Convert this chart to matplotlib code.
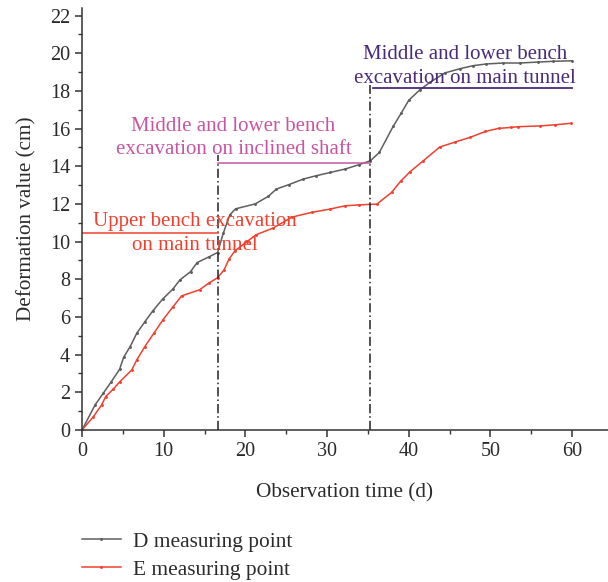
import matplotlib
matplotlib.use("Agg")
import matplotlib.pyplot as plt
from matplotlib.lines import Line2D
from matplotlib.ticker import MultipleLocator

plt.rcParams['font.family'] = ['Liberation Serif', 'DejaVu Serif']

# Observation days and deformation (cm) at measuring point D
d_time = [0, 1.6, 2.6, 3.6, 4.6, 5.1, 5.9, 6.7, 7.7, 8.7, 9.9, 11.1, 12.0, 13.3,
          14.1, 15.5, 16.6, 17.3, 18.1, 18.8, 21.2, 22.8, 23.8, 25.3, 27.1, 28.7,
          30.4, 32.2, 33.9, 35.3, 36.4, 38.1, 39.1, 40.0, 41.4, 42.6, 44.4, 46.3,
          47.9, 49.5, 51.6, 53.6, 55.8, 57.7, 60.0]
d_value = [0, 1.33, 1.95, 2.57, 3.22, 3.86, 4.43, 5.13, 5.75, 6.34, 6.96, 7.47,
           7.97, 8.41, 8.89, 9.18, 9.42, 10.45, 11.42, 11.74, 12.0, 12.4, 12.79,
           13.02, 13.32, 13.5, 13.67, 13.85, 14.08, 14.29, 14.73, 16.12, 16.83,
           17.5, 18.07, 18.45, 18.95, 19.18, 19.34, 19.43, 19.48, 19.48, 19.53,
           19.57, 19.6]

# Observation days and deformation (cm) at measuring point E
e_time = [0, 1.4, 2.4, 2.9, 3.8, 4.65, 6.1, 6.7, 7.7, 8.8, 9.9, 11.1, 12.2, 14.4,
          15.5, 16.6, 17.4, 18.0, 18.7, 20.2, 21.3, 23.4, 25.7, 28.1, 30.4, 32.2,
          33.9, 36.1, 37.9, 39.0, 40.2, 41.7, 43.8, 45.7, 47.5, 49.4, 51.0, 52.5,
          53.4, 56.1, 57.9, 59.9]
e_value = [0, 0.71, 1.33, 1.77, 2.16, 2.57, 3.19, 3.72, 4.43, 5.14, 5.84, 6.52,
           7.12, 7.44, 7.79, 8.08, 8.5, 9.07, 9.5, 10.0, 10.36, 10.72, 11.3, 11.55,
           11.73, 11.9, 11.95, 11.99, 12.61, 13.2, 13.72, 14.26, 15.02, 15.29,
           15.53, 15.85, 16.01, 16.06, 16.1, 16.14, 16.2, 16.28]

# Construction stage boundaries (days) and annotation levels (cm)
stage_days = [16.6, 35.3]
stage_tops = [14.6, 18.3]
stage_levels = [10.45, 14.17, 18.15]
stage_labels = ["Upper bench excavation\non main tunnel",
                "Middle and lower bench\nexcavation on inclined shaft",
                "Middle and lower bench\nexcavation on main tunnel"]

gray = '#5e5e5e'
red = '#f0402e'
pink = '#c8559f'
purple = '#4a2a7a'
txt = '#2b2b2b'

fig = plt.figure(figsize=(6.08, 5.82), dpi=100)
ax = fig.add_axes([82 / 608, 1 - 430 / 582, 1 - 82 / 608, (430 - 8) / 582])

ax.plot(d_time, d_value, color=gray, lw=1.1, marker='.', ms=2.2)
ax.plot(e_time, e_value, color=red, lw=1.1, marker='.', ms=2.2)

for xd, top in zip(stage_days, stage_tops):
    ax.plot([xd, xd], [0, top], color='#222222', lw=1.1, ls=(0, (6, 2, 1, 2)))

ax.plot([0, stage_days[0]], [stage_levels[0]] * 2, color=red, lw=1.1)
ax.plot([stage_days[0], stage_days[1]], [stage_levels[1]] * 2, color=pink, lw=1.1)
ax.plot([stage_days[1] + 0.3, 60], [stage_levels[2]] * 2, color=purple, lw=1.3)

fs = 15
ax.text(13.8, 10.41, stage_labels[0], color=red, fontsize=fs, ha='center',
        va='center', linespacing=1.35)
ax.text(18.55, 15.5, stage_labels[1], color=pink, fontsize=fs, ha='center',
        va='center', linespacing=1.35)
ax.text(46.9, 19.29, stage_labels[2], color=purple, fontsize=fs, ha='center',
        va='center', linespacing=1.35)

ax.set_xlim(0, 64.4)
ax.set_ylim(0, 22.4)
ax.xaxis.set_major_locator(MultipleLocator(10))
ax.xaxis.set_minor_locator(MultipleLocator(5))
ax.yaxis.set_major_locator(MultipleLocator(2))
ax.yaxis.set_minor_locator(MultipleLocator(1))
ax.set_xticks(range(0, 61, 10))
ax.set_yticks(range(0, 23, 2))

for side in ('top', 'right'):
    ax.spines[side].set_visible(False)
for side in ('left', 'bottom'):
    ax.spines[side].set_color('#333333')
    ax.spines[side].set_linewidth(1.1)

ax.tick_params(which='major', direction='out', length=5, width=1.1,
               colors='#333333', labelsize=14.5, labelcolor=txt)
ax.tick_params(which='minor', direction='out', length=3, width=1.0,
               colors='#333333')

ax.set_xlabel('Observation time (d)', fontsize=15.3, color=txt, labelpad=16)
ax.set_ylabel('Deformation value (cm)', fontsize=15.2, color=txt, labelpad=10)

handles = [Line2D([], [], color=gray, lw=1.1, marker='.', ms=2.2),
           Line2D([], [], color=red, lw=1.1, marker='.', ms=2.2)]
fig.legend(handles, ['D measuring point', 'E measuring point'],
           loc='upper left', bbox_to_anchor=(82 / 608, 1 - 532 / 582),
           borderaxespad=0, borderpad=0,
           frameon=False, fontsize=15.4, handlelength=1.8, handletextpad=0.6,
           labelspacing=0.36, labelcolor=txt)

fig.savefig('out.png', dpi=100)
